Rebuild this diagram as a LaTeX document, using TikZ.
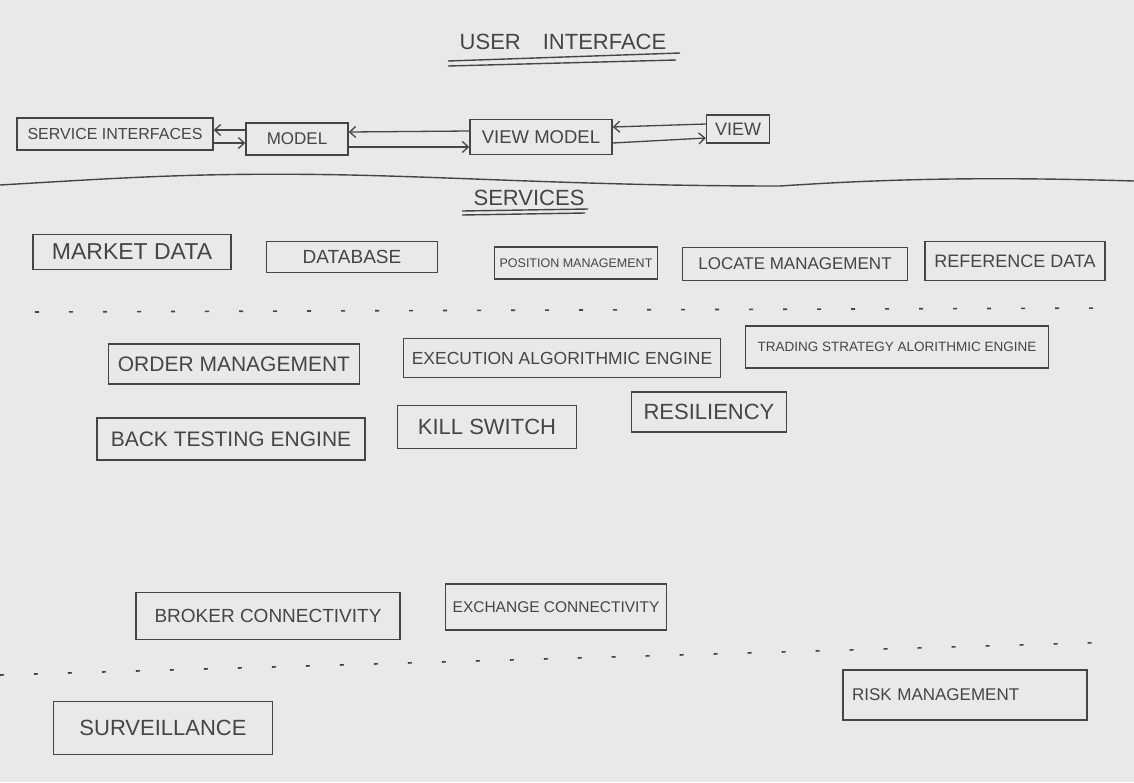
\documentclass[tikz,border=0pt]{standalone}
\usepackage{fontspec}
\setmainfont{Liberation Sans}
\usepackage{tikz}
\usetikzlibrary{arrows.meta, positioning}
\usepackage{xcolor}
\definecolor{paper}{HTML}{E9E9E7}
\definecolor{ink}{HTML}{454545}
\newcommand{\hw}[1]{\fontsize{#1}{#1}\selectfont}

\begin{document}
\begin{tikzpicture}[
      x=1pt, y=-1pt,
      box/.style={draw=ink, text=ink, line width=1.5pt, inner sep=0pt},
      title/.style={text=ink, inner sep=0pt},
      rule/.style={draw=ink, line width=1.4pt},
      dots/.style={draw=ink, line width=1.6pt, dash pattern=on 4pt off 30pt},
      arrow/.style={-{Straight Barb[length=6pt, width=11pt]}, draw=ink, line width=1.3pt}
    ]

    % Paper
    \fill[paper] (0,0) rectangle (1134,782);
    \useasboundingbox (0,0) rectangle (1134,782);

    % User interface
    \node[title, font=\hw{22}] (ui) at (563,42) {USER\quad INTERFACE};
    \draw[rule] (448,61) -- (680,53);
    \draw[rule] (448,66) -- (676,60);

    \node[box, minimum width=196pt, minimum height=32pt, font=\hw{16}] (si) at (115,134) {SERVICE INTERFACES};
    \node[box, minimum width=102pt, minimum height=32pt, font=\hw{17}] (model) at (297,139) {MODEL};
    \node[box, minimum width=142pt, minimum height=35pt, font=\hw{18.5}] (vm) at (541,137) {VIEW MODEL};
    \node[box, minimum width=63pt, minimum height=28pt, font=\hw{18}] (view) at (738,129) {VIEW};

    \draw[arrow] ([yshift=9pt]model.west) -- ([yshift=4pt]si.east);
    \draw[arrow] ([yshift=-9pt]si.east) -- ([yshift=-4pt]model.west);
    \draw[arrow] ([yshift=6pt]vm.west) -- ([yshift=7pt]model.east);
    \draw[arrow] ([yshift=-8pt]model.east) -- ([yshift=-10pt]vm.west);
    \draw[arrow] ([yshift=5pt]view.west) -- ([yshift=10pt]vm.east);
    \draw[arrow] ([yshift=-6pt]vm.east) -- ([yshift=-9pt]view.west);

    % Divider
    \draw[rule] (0,185) .. controls (120,178) and (200,172) .. (350,175)
      .. controls (480,178) and (600,186) .. (780,186)
      .. controls (900,178) and (1000,177) .. (1134,181);

    % Services
    \node[title, font=\hw{22}] (services) at (529,198) {SERVICES};
    \draw[rule] (462,211) -- (588,209);
    \draw[rule] (462,215) -- (585,213);

    \node[box, minimum width=198pt, minimum height=35pt, font=\hw{23}] (market) at (132,252) {MARKET DATA};
    \node[box, minimum width=171pt, minimum height=31pt, font=\hw{19}] (database) at (352,257) {DATABASE};
    \node[box, minimum width=163pt, minimum height=32pt, font=\hw{12.5}] (position) at (576,263) {POSITION MANAGEMENT};
    \node[box, minimum width=225pt, minimum height=33pt, font=\hw{17}] (locate) at (795,264) {LOCATE MANAGEMENT};
    \node[box, minimum width=180pt, minimum height=39pt, font=\hw{18}] (reference) at (1015,261) {REFERENCE DATA};

    \draw[dots] (35,312) -- (1110,308);

    \node[box, minimum width=251pt, minimum height=40pt, font=\hw{21}] (order) at (234,364) {ORDER MANAGEMENT};
    \node[box, minimum width=317pt, minimum height=39pt, font=\hw{17.5}] (exec) at (562,358) {EXECUTION ALGORITHMIC ENGINE};
    \node[box, minimum width=303pt, minimum height=42pt, font=\hw{13.5}] (trading) at (897,347) {TRADING STRATEGY ALORITHMIC ENGINE};

    \node[box, minimum width=268pt, minimum height=42pt, font=\hw{21}] (backtest) at (231,439) {BACK TESTING ENGINE};
    \node[box, minimum width=179pt, minimum height=43pt, font=\hw{22}] (kill) at (487,427) {KILL SWITCH};
    \node[box, minimum width=155pt, minimum height=40pt, font=\hw{22}] (resil) at (709,412) {RESILIENCY};

    \node[box, minimum width=264pt, minimum height=47pt, font=\hw{19}] (broker) at (268,616) {BROKER CONNECTIVITY};
    \node[box, minimum width=221pt, minimum height=46pt, font=\hw{15.5}] (exchange) at (556,607) {EXCHANGE CONNECTIVITY};

    \draw[dots] (0,675) -- (1120,642);

    \node[box, minimum width=244pt, minimum height=50pt, text width=226pt, align=left, font=\hw{17}] (risk) at (965,695) {RISK MANAGEMENT};
    \node[box, minimum width=219pt, minimum height=53pt, font=\hw{22}] (surv) at (163,728) {SURVEILLANCE};

  \end{tikzpicture}
\end{document}
